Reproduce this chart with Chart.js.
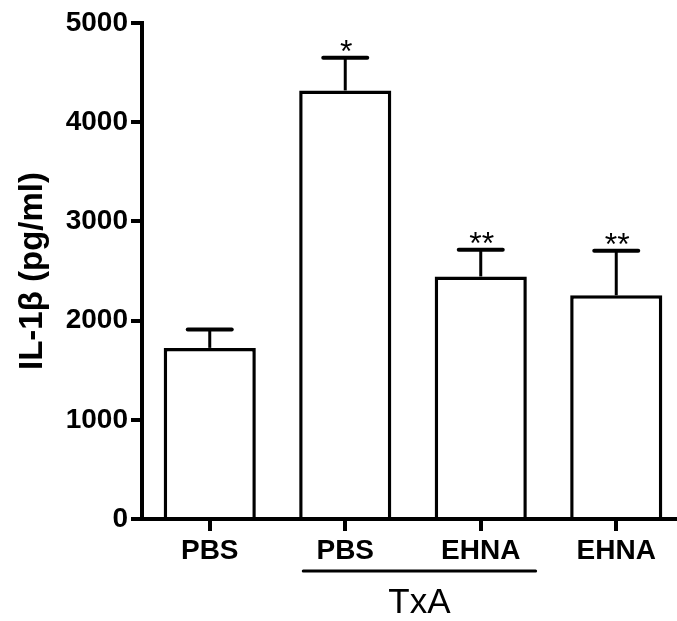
<!DOCTYPE html>
<html>
<head>
<meta charset="utf-8">
<script src="https://cdn.jsdelivr.net/npm/chart.js@4"></script>
<style>
  html, body { margin: 0; padding: 0; background: #fff; overflow: hidden; }
  #wrap { width: 720px; height: 621px; }
</style>
</head>
<body>
<div id="wrap"><canvas id="chart" width="720" height="621"></canvas></div>
<script>
// IL-1β par groupe
const categories = ['PBS', 'PBS', 'EHNA', 'EHNA'];
const means = [1725, 4320, 2445, 2255];
const errorTops = [1910, 4650, 2715, 2705];
const marks = ['', '*', '**', '**'];
const yTicks = [0, 1000, 2000, 3000, 4000, 5000];
const groupLabel = 'TxA';
const groupRange = [1, 2];

const FONT = "'Liberation Sans', Arial, sans-serif";

// barres d'erreur, étoiles et accolade TxA
const extras = {
    id: 'extras',
    afterDatasetsDraw(chart) {
        const ctx = chart.ctx;
        const x = chart.scales.x;
        const y = chart.scales.y;
        const meta = chart.getDatasetMeta(0);
        ctx.save();
        ctx.strokeStyle = '#000';
        ctx.fillStyle = '#000';
        meta.data.forEach((bar, i) => {
            const cx = bar.x;
            const top = y.getPixelForValue(means[i]);
            const cap = y.getPixelForValue(errorTops[i]);
            ctx.lineCap = 'butt';
            ctx.lineWidth = 3;
            ctx.beginPath();
            ctx.moveTo(cx, top);
            ctx.lineTo(cx, cap);
            ctx.stroke();
            ctx.lineCap = 'round';
            ctx.lineWidth = 4;
            ctx.beginPath();
            ctx.moveTo(cx - 22, cap);
            ctx.lineTo(cx + 22, cap);
            ctx.stroke();
            if (marks[i]) {
                ctx.font = '32px ' + FONT;
                ctx.textAlign = 'center';
                ctx.textBaseline = 'alphabetic';
                ctx.fillText(marks[i], cx + 1, cap + 4);
            }
        });
        // accolade sous PBS / EHNA
        const w = x.getPixelForValue(1) - x.getPixelForValue(0);
        const x1 = x.getPixelForValue(groupRange[0]) - 0.31 * w;
        const x2 = x.getPixelForValue(groupRange[1]) + 0.405 * w;
        const by = 571;
        ctx.lineCap = 'round';
        ctx.lineWidth = 3;
        ctx.beginPath();
        ctx.moveTo(x1, by);
        ctx.lineTo(x2, by);
        ctx.stroke();
        ctx.font = '35px ' + FONT;
        ctx.textAlign = 'center';
        ctx.textBaseline = 'middle';
        ctx.fillText(groupLabel, (x1 + x2) / 2, 603);
        ctx.restore();
    }
};

new Chart(document.getElementById('chart'), {
    type: 'bar',
    data: {
        labels: categories,
        datasets: [{
            data: means,
            backgroundColor: '#fff',
            borderColor: '#000',
            borderWidth: 3.5,
            borderSkipped: 'start',
            barPercentage: 0.68,
            categoryPercentage: 1
        }]
    },
    options: {
        responsive: false,
        animation: false,
        devicePixelRatio: 1,
        layout: { padding: { top: 23, right: 36, left: 0, bottom: 0 } },
        plugins: {
            legend: { display: false },
            tooltip: { enabled: false }
        },
        scales: {
            x: {
                offset: true,
                afterFit: s => { s.height = 102; },
                border: { display: true, color: '#000', width: 4 },
                grid: {
                    display: true, offset: false, drawOnChartArea: false,
                    drawTicks: true, tickLength: 12, lineWidth: 4, color: '#000'
                },
                ticks: {
                    color: '#000', padding: 3,
                    font: { family: FONT, size: 28, weight: 'bold' }
                }
            },
            y: {
                min: 0,
                max: 5000,
                afterFit: s => { s.width = 142; },
                afterBuildTicks: s => { s.ticks = yTicks.map(v => ({ value: v })); },
                border: { display: true, color: '#000', width: 4 },
                grid: {
                    display: true, drawOnChartArea: false,
                    drawTicks: true, tickLength: 11, lineWidth: 4, color: '#000'
                },
                ticks: {
                    color: '#000', padding: 3,
                    callback: v => String(v),
                    font: { family: FONT, size: 28, weight: 'bold' }
                },
                title: {
                    display: true,
                    text: 'IL-1β (pg/ml)',
                    color: '#000',
                    padding: { top: 13, bottom: 0 },
                    font: { family: FONT, size: 33, weight: 'bold' }
                }
            }
        }
    },
    plugins: [extras]
});
</script>
</body>
</html>
